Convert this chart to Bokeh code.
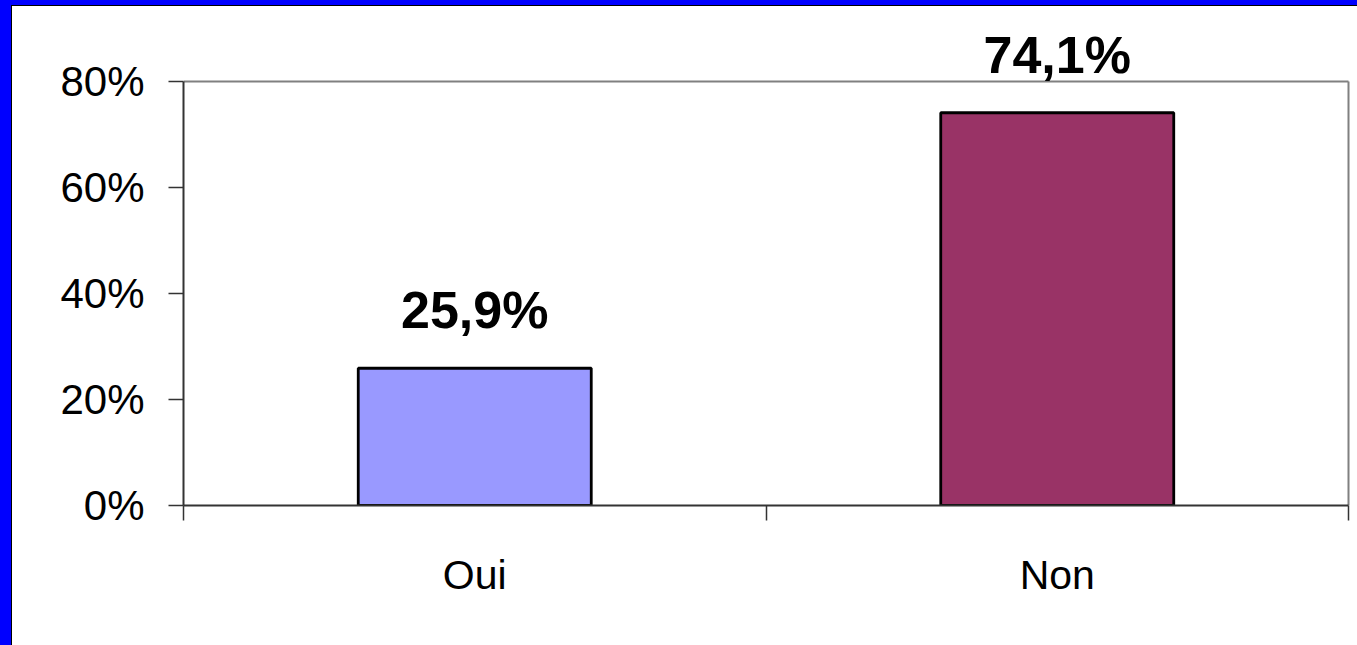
import numpy as np
from bokeh.plotting import figure
from bokeh.models import ColumnDataSource, FixedTicker, NumeralTickFormatter, LabelSet, Range1d
from bokeh.core.properties import value
from bokeh.embed import file_html
from bokeh.resources import INLINE

categories = ["Oui", "Non"]
values = [0.259, 0.741]
colors = ["#9999FF", "#993366"]
y_ticks = [0.0, 0.2, 0.4, 0.6, 0.8]

n = len(categories)
ymax = y_ticks[-1]
xpos = np.arange(n) + 0.5
labels = [f"{v*100:.1f}%".replace(".", ",") for v in values]
src = ColumnDataSource(dict(x=xpos, top=values, color=colors, label=labels))

# layout (pixels)
W, H = 1357, 645
BL, BT, BR, BB = 171, 10, 19, 146
frame_w = W - BL - BR
frame_h = H - BT - BB
axis_w_px = 1165          # pixel width of the n categories
axis_h_px = 424           # pixel height of 0..ymax
x_end = n * frame_w / axis_w_px
y_end = ymax * frame_h / axis_h_px

p = figure(width=W, height=H, output_backend="svg", toolbar_location=None,
           x_range=Range1d(0, x_end), y_range=Range1d(0, y_end),
           min_border_left=BL, min_border_top=BT, min_border_right=BR, min_border_bottom=BB)
p.styles = {"border-left": "11px solid #0000FF", "border-top": "5px solid #0000FF",
            "padding-left": "1px", "padding-top": "1px",
            "background": "linear-gradient(to right, #000000 0px, #000000 1px, transparent 1px), "
                          "linear-gradient(to bottom, #000000 0px, #000000 1px, #ffffff 1px)"}
p.background_fill_color = "white"
p.border_fill_color = "white"
p.outline_line_color = None
p.xgrid.visible = False
p.ygrid.visible = False

# top and right frame border
p.segment(x0=[0, n], y0=[ymax, 0], x1=[n, n], y1=[ymax, ymax], line_color="#808080", line_width=2)

p.vbar(x="x", top="top", width=0.4, bottom=0, source=src, fill_color="color",
       line_color="black", line_width=2.8)

p.add_layout(LabelSet(x="x", y="top", text="label", source=src, text_align="center",
                      text_baseline="alphabetic", y_offset=40,
                      text_font=value("Liberation Sans"), text_font_size="52px",
                      text_font_style="bold", text_color="black"))

# x axis
p.xaxis.bounds = (0, n)
p.xaxis.ticker = FixedTicker(ticks=list(xpos), minor_ticks=list(range(n + 1)))
p.xaxis.major_label_overrides = {float(x): c for x, c in zip(xpos, categories)}
p.xaxis.major_tick_out = 0
p.xaxis.major_tick_in = 0
p.xaxis.minor_tick_out = 15
p.xaxis.minor_tick_in = 0
p.xaxis.minor_tick_line_color = "#333333"
p.xaxis.minor_tick_line_width = 1.5
p.xaxis.axis_line_color = "#333333"
p.xaxis.axis_line_width = 2
p.xaxis.major_label_text_font = "Liberation Sans"
p.xaxis.major_label_text_font_size = "41px"
p.xaxis.major_label_text_color = "black"
p.xaxis.major_label_standoff = 31

# y axis
p.yaxis.bounds = (0, ymax)
p.yaxis.ticker = FixedTicker(ticks=y_ticks)
p.yaxis.formatter = NumeralTickFormatter(format="0%")
p.yaxis.major_tick_out = 15
p.yaxis.major_tick_in = 0
p.yaxis.minor_tick_line_color = None
p.yaxis.major_tick_line_color = "#333333"
p.yaxis.major_tick_line_width = 1.5
p.yaxis.axis_line_color = "#333333"
p.yaxis.axis_line_width = 2
p.yaxis.major_label_text_font = "Liberation Sans"
p.yaxis.major_label_text_font_size = "42px"
p.yaxis.major_label_text_color = "black"
p.yaxis.major_label_standoff = 24

open("out.html", "w").write(file_html(p, INLINE))
